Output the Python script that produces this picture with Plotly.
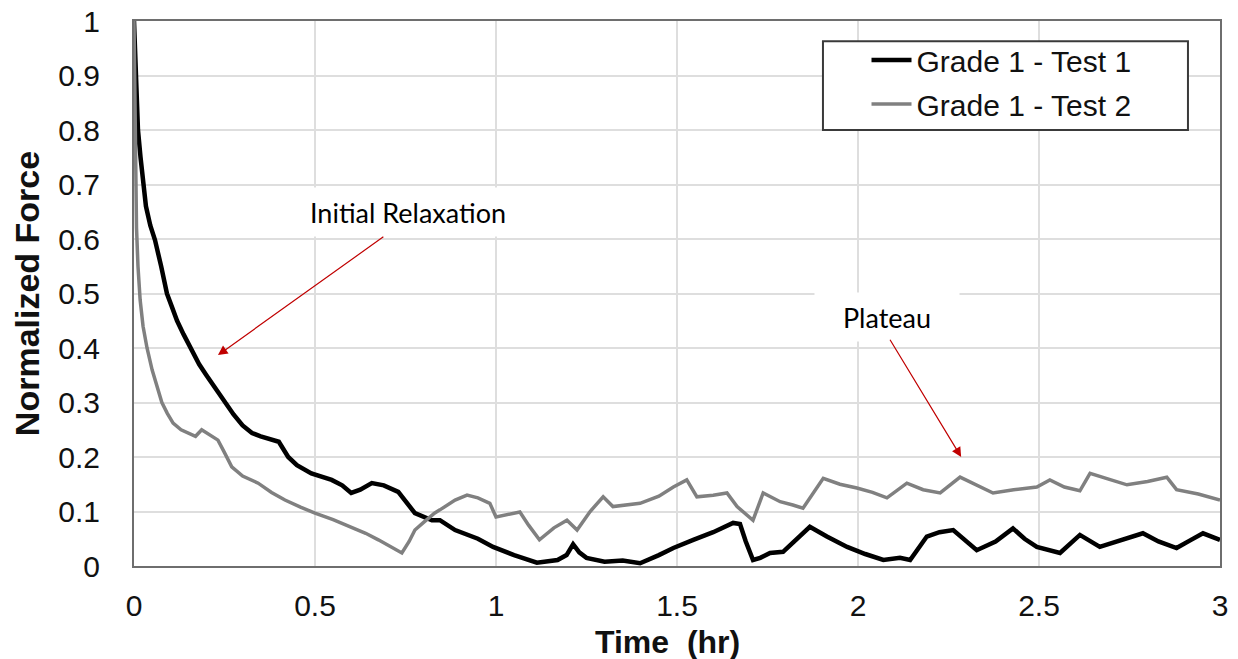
import plotly.graph_objects as go

# ---- data ----
time_test1 = [0, 0.003, 0.006, 0.011, 0.018, 0.025, 0.033, 0.045, 0.058, 0.075, 0.091, 0.105, 0.119,
              0.137, 0.155, 0.18, 0.2, 0.225, 0.251, 0.275, 0.3, 0.326, 0.35, 0.381, 0.4, 0.426, 0.45,
              0.49, 0.52, 0.546, 0.575, 0.6, 0.625, 0.657, 0.69, 0.73, 0.776, 0.823, 0.845, 0.887,
              0.95, 0.992, 1.05, 1.113, 1.17, 1.195, 1.213, 1.23, 1.25, 1.3, 1.35, 1.398, 1.45, 1.49,
              1.545, 1.6, 1.655, 1.674, 1.69, 1.71, 1.73, 1.757, 1.793, 1.83, 1.867, 1.914, 1.97,
              2.02, 2.07, 2.116, 2.144, 2.19, 2.225, 2.263, 2.3, 2.328, 2.38, 2.428, 2.46, 2.494,
              2.558, 2.613, 2.668, 2.72, 2.787, 2.83, 2.88, 2.92, 2.953, 3.0]
force_test1 = [1.0, 0.93, 0.86, 0.80, 0.75, 0.70, 0.66, 0.625, 0.598, 0.55, 0.50, 0.475, 0.45,
               0.425, 0.402, 0.37, 0.35, 0.325, 0.299, 0.278, 0.258, 0.244, 0.238, 0.231, 0.228, 0.2, 0.185,
               0.17, 0.163, 0.158, 0.148, 0.134, 0.14, 0.152, 0.148, 0.136, 0.097, 0.084, 0.084, 0.066,
               0.05, 0.035, 0.02, 0.006, 0.011, 0.02, 0.04, 0.025, 0.015, 0.008, 0.01, 0.005, 0.02, 0.033,
               0.048, 0.062, 0.079, 0.077, 0.045, 0.011, 0.015, 0.024, 0.026, 0.05, 0.072, 0.054, 0.035,
               0.022, 0.011, 0.015, 0.011, 0.054, 0.062, 0.066, 0.045, 0.029, 0.045, 0.069, 0.05, 0.035,
               0.024, 0.057, 0.035, 0.045, 0.06, 0.045, 0.033, 0.048, 0.06, 0.048]

time_test2 = [0, 0.002, 0.004, 0.007, 0.011, 0.017, 0.025, 0.036, 0.05, 0.063, 0.077, 0.092, 0.108,
              0.13, 0.15, 0.17, 0.187, 0.21, 0.232, 0.25, 0.27, 0.3, 0.343, 0.38, 0.417, 0.46, 0.5,
              0.55, 0.6, 0.64, 0.675, 0.71, 0.74, 0.76, 0.776, 0.8, 0.83, 0.845, 0.887, 0.92, 0.95,
              0.983, 1.0, 1.066, 1.09, 1.12, 1.16, 1.196, 1.224, 1.26, 1.296, 1.323, 1.36, 1.398, 1.45,
              1.49, 1.527, 1.555, 1.6, 1.638, 1.666, 1.71, 1.738, 1.785, 1.82, 1.848, 1.904, 1.95,
              1.997, 2.04, 2.08, 2.135, 2.18, 2.227, 2.282, 2.33, 2.373, 2.43, 2.494, 2.53, 2.57,
              2.613, 2.641, 2.69, 2.743, 2.8, 2.853, 2.88, 2.94, 3.0]
force_test2 = [1.0, 0.85, 0.72, 0.62, 0.55, 0.488, 0.44, 0.40, 0.36, 0.33, 0.30, 0.28, 0.262,
               0.25, 0.244, 0.238, 0.25, 0.24, 0.231, 0.208, 0.182, 0.165, 0.152, 0.135, 0.121, 0.108, 0.097,
               0.085, 0.072, 0.06, 0.048, 0.035, 0.024, 0.045, 0.066, 0.08, 0.097, 0.103, 0.121, 0.13, 0.125,
               0.115, 0.09, 0.099, 0.075, 0.048, 0.07, 0.084, 0.066, 0.1, 0.127, 0.109, 0.112, 0.115, 0.128,
               0.145, 0.158, 0.127, 0.13, 0.134, 0.109, 0.084, 0.134, 0.118, 0.112, 0.106, 0.161, 0.15,
               0.143, 0.135, 0.125, 0.152, 0.14, 0.134, 0.163, 0.148, 0.134, 0.14, 0.145, 0.158, 0.145,
               0.138, 0.17, 0.16, 0.149, 0.155, 0.163, 0.14, 0.132, 0.121]

series_names = ["Grade 1 - Test 1", "Grade 1 - Test 2"]
x_ticks = [0, 0.5, 1, 1.5, 2, 2.5, 3]
x_tick_labels = ["0", "0.5", "1", "1.5", "2", "2.5", "3"]
y_ticks = [0, 0.1, 0.2, 0.3, 0.4, 0.5, 0.6, 0.7, 0.8, 0.9, 1]
y_tick_labels = ["0", "0.1", "0.2", "0.3", "0.4", "0.5", "0.6", "0.7", "0.8", "0.9", "1"]

FONT = "Liberation Sans, Arial, sans-serif"
NOTE_FONT = "Lato, Carlito, sans-serif"

fig = go.Figure()
fig.add_trace(go.Scatter(x=time_test1, y=force_test1, mode="lines", name=series_names[0],
                         legendgroup="g1", line=dict(color="#000000", width=4.5)))
fig.add_trace(go.Scatter(x=time_test2, y=force_test2, mode="lines", name=series_names[1],
                         legendgroup="g2", line=dict(color="#808080", width=3.5)))

axis_common = dict(showline=True, linecolor="#6e6e6e", linewidth=2, mirror=True,
                   showgrid=True, gridcolor="#dedede", gridwidth=1.5, zeroline=False,
                   ticks="", automargin=False,
                   tickfont=dict(family=FONT, size=30, color="#111111"))

fig.update_xaxes(range=[0, 3], tickvals=x_ticks, ticktext=x_tick_labels,
                 ticklabelstandoff=12, **axis_common)
fig.update_yaxes(range=[0, 1], tickvals=y_ticks, ticktext=y_tick_labels,
                 title=dict(text="Normalized Force", font=dict(family=FONT, size=34, color="#111111", weight="bold"),
                            standoff=8),
                 ticklabelstandoff=26, **axis_common)

# x-axis title as annotation (slightly left of centre like the reference)
fig.add_annotation(x=0.491, y=-0.14, xref="paper", yref="paper", text="<b>Time  (hr)</b>",
                   showarrow=False, yanchor="middle", xanchor="center",
                   font=dict(family=FONT, size=32, color="#111111"))

# annotations: text boxes
fig.add_annotation(x=0.757, y=0.650, xref="x", yref="y", text="Initial Relaxation", showarrow=False,
                   font=dict(family=NOTE_FONT, size=27, color="#000000"),
                   bgcolor="#ffffff", width=210, height=48, borderpad=0, align="center", valign="middle")
fig.add_annotation(x=2.086, y=0.457, xref="x", yref="y", text="Plateau", showarrow=False,
                   font=dict(family=NOTE_FONT, size=27, color="#000000"),
                   bgcolor="#ffffff", width=144, height=48, borderpad=0, align="center", valign="middle",
                   xshift=-2)
# arrows
fig.add_annotation(x=0.232, y=0.387, ax=0.693, ay=0.606, xref="x", yref="y", axref="x", ayref="y",
                   text="", showarrow=True, arrowhead=2, arrowsize=1.6, arrowwidth=1.2,
                   arrowcolor="#c00000", standoff=0, startstandoff=0)
fig.add_annotation(x=2.285, y=0.2, ax=2.086, ay=0.418, xref="x", yref="y", axref="x", ayref="y",
                   text="", showarrow=True, arrowhead=2, arrowsize=1.6, arrowwidth=1.2,
                   arrowcolor="#c00000", standoff=0, startstandoff=0)

# legend frame (white box with dark border); legend itself drawn on top without border
fig.add_shape(type="rect", xref="paper", yref="paper", x0=0.6344, x1=0.9705, y0=0.800, y1=0.963,
              fillcolor="#ffffff", line=dict(color="#3a3a3a", width=2), layer="above")

fig.update_layout(
    width=1238, height=659,
    margin=dict(l=134, r=18, t=21, b=93, autoexpand=False),
    paper_bgcolor="#ffffff", plot_bgcolor="#ffffff",
    showlegend=True,
    legend=dict(x=0.6745, y=0.976, xanchor="left", yanchor="top",
                bgcolor="rgba(0,0,0,0)", borderwidth=0,
                font=dict(family=FONT, size=30, color="#111111"),
                itemwidth=40, tracegroupgap=2),
)

fig.write_html("out.html")
